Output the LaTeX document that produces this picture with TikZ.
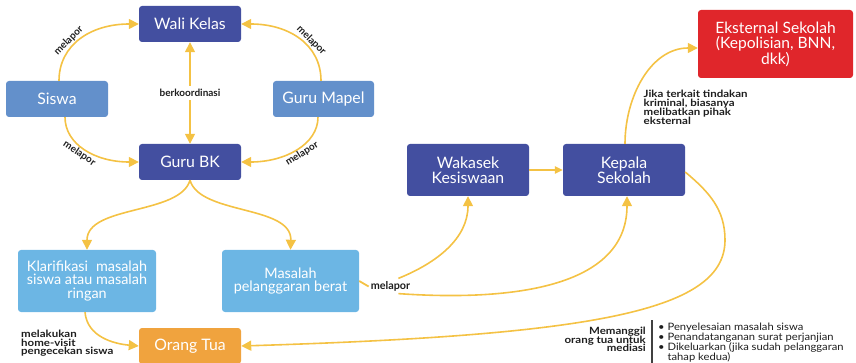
\documentclass[tikz,border=0pt]{standalone}
\usepackage{fontspec}
\setmainfont{Lato}
\newfontfamily\widefont{Lato}[FakeStretch=1.15]
\newfontfamily\listfont{Lato}[FakeStretch=1.1]
\usepackage{calc}
\usetikzlibrary{arrows.meta}
\definecolor{navy}{HTML}{434FA0}
\definecolor{midblue}{HTML}{6390CB}
\definecolor{skyblue}{HTML}{6CB6E4}
\definecolor{orangebox}{HTML}{F0A33E}
\definecolor{redbox}{HTML}{E0262B}
\definecolor{flow}{HTML}{F4C244}
\definecolor{ink}{HTML}{1E1E1E}
\begin{document}
\lineskiplimit=-20pt
\begin{tikzpicture}[x=1pt,y=1pt,
  box/.style={rounded corners=3pt, text=white, align=center, inner sep=2pt,
    font=\fontsize{15.8}{15.3}\selectfont},
  navybox/.style={box, fill=navy},
  midbox/.style={box, fill=midblue},
  skybox/.style={box, fill=skyblue, font=\fontsize{14.4}{13.6}\selectfont},
  lbl/.style={text=ink, font=\bfseries\fontsize{10}{10}\selectfont, inner sep=0pt},
  arclbl/.style={lbl, sloped, inner sep=1.2pt},
  note/.style={text=ink, font=\widefont\bfseries\fontsize{10}{8.9}\selectfont,
    inner sep=0pt},
  conn/.style={draw=flow, line width=1.6pt, -{Triangle[length=10pt,width=10pt]}},
  sconn/.style={draw=flow, line width=1.3pt, -{Triangle[length=8pt,width=7.5pt]}}
]
\useasboundingbox (0,0) rectangle (856,-363);
\clip (0,0) rectangle (856,-363);

% boxes
\node[navybox, minimum width=102, minimum height=36] (wali) at (190,-24) {Wali Kelas};
\node[midbox, minimum width=102, minimum height=36] (siswa) at (57,-99) {Siswa};
\node[midbox, minimum width=101, minimum height=36] (mapel) at (323.5,-99) {Guru Mapel};
\node[navybox, minimum width=102, minimum height=36] (bk) at (190,-162) {Guru BK};
\node[skybox, minimum width=138, minimum height=62] (klar) at (87,-281)
  {\makebox[\widthof{siswa atau masalah}][s]{Klarifikasi \hfill masalah}\\siswa atau masalah\\ringan};
\node[skybox, minimum width=137, minimum height=62] (berat) at (290.5,-281)
  {Masalah\\pelanggaran berat};
\node[box, fill=orangebox, minimum width=102, minimum height=36] (ortu) at (190,-346) {Orang Tua};
\node[navybox, minimum width=122, minimum height=52] (waka) at (468,-170) {Wakasek\\Kesiswaan};
\node[navybox, minimum width=122, minimum height=52] (kepsek) at (624,-170) {Kepala\\Sekolah};
\node[box, fill=redbox, minimum width=155, minimum height=68,
  font=\fontsize{15.6}{15.5}\selectfont] (eks) at (775.5,-44)
  {Eksternal Sekolah\\(Kepolisian, BNN,\\dkk)};

% reporting arcs around the homeroom teacher and counsellor
\draw[conn] ([xshift=2pt]siswa.north) .. controls +(0,36) and +(-48,0) ..
  node[arclbl, pos=0.4, above] {melapor} (wali.west);
\draw[conn] ([xshift=-2.5pt]mapel.north) .. controls +(0,36) and +(48,0) ..
  node[arclbl, pos=0.4, above] {melapor} (wali.east);
\draw[conn] ([xshift=8pt]siswa.south) .. controls +(0,-27) and +(-44,0) ..
  node[arclbl, pos=0.47, below] {melapor} (bk.west);
\draw[conn] ([xshift=-5.5pt]mapel.south) .. controls +(0,-27) and +(44,0) ..
  node[arclbl, pos=0.47, below] {melapor} (bk.east);
\draw[conn, {Triangle[length=10pt,width=10pt]}-{Triangle[length=10pt,width=10pt]}]
  (wali.south) -- node[fill=white, lbl, inner sep=3pt] {berkoordinasi} (bk.north);

% counsellor splits into light and heavy cases
\draw[conn] (bk.south) .. controls (180,-215) and (87,-205) .. (klar.north);
\draw[conn] (bk.south) .. controls (200,-215) and (292,-205) .. (berat.north);

% home visit
\draw[conn] ([xshift=-2pt]klar.south) to[out=-85,in=175] (ortu.west);
\node[note, anchor=north west, align=left] (hv) at (21,-329.5)
  {melakukan\\home-visit\\pengecekan siswa};

% heavy violations reported upward
\node[lbl, font=\bfseries\fontsize{10.8}{11}\selectfont] (lap) at (390.5,-286.5) {melapor};
\draw[draw=flow, line width=1.8pt] (berat.east) -- ([xshift=-2pt]lap.west);
\coordinate (lapA) at ([xshift=-12pt, yshift=3pt]lap.north east);
\coordinate (lapB) at ([xshift=-12pt, yshift=-2pt]lap.south east);
\draw[conn] (lapA) to[out=22,in=-90] (waka.south);
\draw[conn] (lapB) to[out=-4,in=-90] ([xshift=3pt]kepsek.south);
\draw[sconn] (waka.east) -- (kepsek.west);

% external parties
\draw[conn] ([xshift=1pt]kepsek.north) to[out=90,in=180] ([yshift=-4pt]eks.west);
\node[note, anchor=north west, align=left] (jika) at (643.5,-90)
  {Jika terkait tindakan\\kriminal, biasanya\\melibatkan pihak\\eksternal};

% principal calls the parents
\coordinate (bend) at (725,-240);
\draw[conn] ([yshift=-2pt]kepsek.east) to[out=-40,in=90] (bend)
  .. controls (725,-310) and (600,-335) .. (ortu.east);
\node[note, anchor=north east, align=right] (med) at (646,-326.5)
  {Memanggil\\orang tua untuk\\mediasi};
\draw[line width=1.3pt, ink!85] (652,-320) -- (652,-363);
\node[anchor=north west, align=left, inner sep=0pt, text=ink,
  font=\listfont\fontsize{10.2}{9.9}\selectfont] (hasil) at (658,-323)
  {• Penyelesaian masalah siswa\\
   • Penandatanganan surat perjanjian\\
   • Dikeluarkan (jika sudah pelanggaran\\
   \hphantom{• }tahap kedua)};
\end{tikzpicture}
\end{document}
